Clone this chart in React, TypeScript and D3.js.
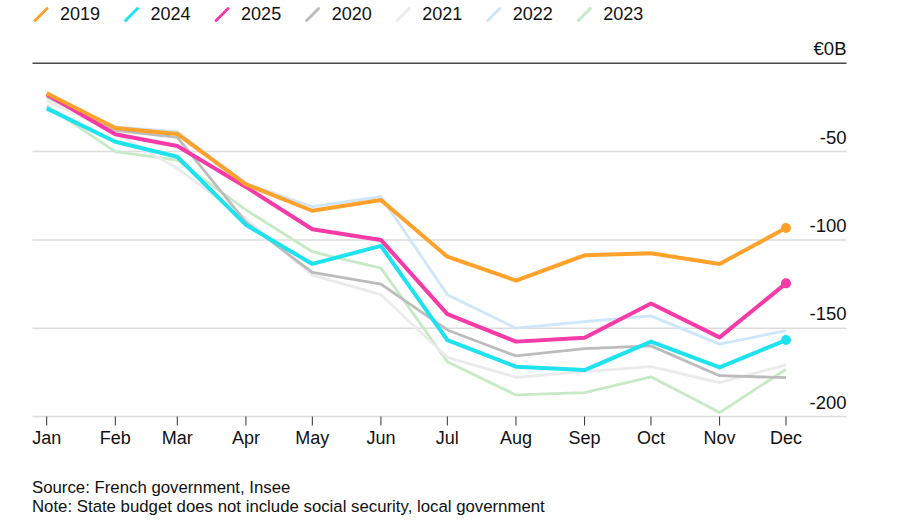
import { useEffect, useRef } from "react";
import * as d3 from "d3";

const months = ["Jan", "Feb", "Mar", "Apr", "May", "Jun", "Jul", "Aug", "Sep", "Oct", "Nov", "Dec"];

const v2019 = [-17, -36.6, -40, -68.5, -83.5, -77.4, -109.5, -123, -108.7, -107.6, -113.6, -93.3];
const v2024 = [-25.5, -44.4, -52.9, -91.5, -113.6, -103.4, -156.7, -171.8, -173.7, -157.6, -172.2, -156.7];
const v2025 = [-17.5, -40.2, -46.8, -70, -94, -100, -142, -157.6, -155.4, -136, -155.2, -124.6];
const v2020 = [-19, -38, -42, -90, -118.4, -125, -151, -165.7, -161.6, -160, -176.9, -178];
const v2021 = [-21, -39.5, -59.5, -88, -120, -131, -166.5, -177.8, -174.6, -171.8, -180.8, -170.8];
const v2022 = [-18, -36, -38.7, -68, -81.2, -75.5, -131, -150, -146.3, -143, -159, -151.4];
const v2023 = [-24, -50, -54.8, -83, -106.7, -116, -169, -187.8, -186.5, -177.5, -197.8, -173.3];

const yTicks = [0, -50, -100, -150, -200];
const yTickLabels = ["€0B", "-50", "-100", "-150", "-200"];

// legend order
const legendYears = ["2019", "2024", "2025", "2020", "2021", "2022", "2023"];

const seriesStyle: Record<string, { color: string; width: number; dot: boolean; values: number[] }> = {
  "2019": { color: "#ffa12b", width: 4, dot: true, values: v2019 },
  "2024": { color: "#1fe2ef", width: 4, dot: true, values: v2024 },
  "2025": { color: "#f63aa8", width: 4, dot: true, values: v2025 },
  "2020": { color: "#bcbcbc", width: 2.8, dot: false, values: v2020 },
  "2021": { color: "#ebebeb", width: 2.8, dot: false, values: v2021 },
  "2022": { color: "#cde6fa", width: 2.8, dot: false, values: v2022 },
  "2023": { color: "#c6e9c6", width: 2.8, dot: false, values: v2023 },
};

// drawn back to front
const drawOrder = ["2023", "2022", "2021", "2020", "2025", "2024", "2019"];

const FONT = "'Liberation Sans', Arial, Helvetica, sans-serif";
const INK = "#111";

export default function App() {
  const ref = useRef<SVGSVGElement>(null);
  useEffect(() => {
    if (!ref.current) return;
    const svg = d3.select(ref.current);
    svg.selectAll("*").remove();
    const w = 900;
    const h = 521;
    svg.attr("viewBox", `0 0 ${w} ${h}`);

    const dates = months.map((_, i) => new Date(2019, i, 1));
    const x = d3.scaleTime()
      .domain([dates[0], dates[11]])
      .range([46.7, 786]);
    const y = d3.scaleLinear().domain([0, -200]).range([63.3, 416.5]);
    const gridL = 32.5;
    const gridR = 846.5;

    // gridlines
    yTicks.forEach((t, i) => {
      svg.append("line")
        .attr("x1", gridL).attr("x2", gridR)
        .attr("y1", y(t)).attr("y2", y(t))
        .attr("stroke", t === 0 ? "#4a4a4a" : "#dcdcdc")
        .attr("stroke-width", t === 0 ? 1.4 : 1.5);
      svg.append("text")
        .attr("x", gridR).attr("y", y(t) - 8)
        .attr("text-anchor", "end")
        .attr("font-family", FONT).attr("font-size", 18.5)
        .attr("fill", INK)
        .text(yTickLabels[i]);
    });

    // x axis ticks + labels
    const xg = svg.append("g");
    dates.forEach((d, i) => {
      xg.append("line")
        .attr("x1", x(d)).attr("x2", x(d))
        .attr("y1", y(-200)).attr("y2", y(-200) + 9)
        .attr("stroke", "#333").attr("stroke-width", 1);
      xg.append("text")
        .attr("x", x(d)).attr("y", 443.5)
        .attr("text-anchor", "middle")
        .attr("font-family", FONT).attr("font-size", 18)
        .attr("fill", INK)
        .text(months[i]);
    });

    const line = d3.line<number>()
      .x((_, i) => x(dates[i]))
      .y((d) => y(d));

    drawOrder.forEach((yr) => {
      const s = seriesStyle[yr];
      svg.append("path")
        .datum(s.values)
        .attr("fill", "none")
        .attr("stroke", s.color)
        .attr("stroke-width", s.width)
        .attr("stroke-linejoin", "round")
        .attr("d", line);
    });
    drawOrder.forEach((yr) => {
      const s = seriesStyle[yr];
      if (!s.dot) return;
      svg.append("circle")
        .attr("cx", x(dates[11]))
        .attr("cy", y(s.values[11]))
        .attr("r", 5)
        .attr("fill", s.color);
    });

    // legend
    const lg = svg.append("g");
    let lx = 60;
    legendYears.forEach((yr) => {
      const s = seriesStyle[yr];
      lg.append("line")
        .attr("x1", lx - 25).attr("y1", 20.5)
        .attr("x2", lx - 13).attr("y2", 8.5)
        .attr("stroke", s.color)
        .attr("stroke-width", 3)
        .attr("stroke-linecap", "round");
      const t = lg.append("text")
        .attr("x", lx).attr("y", 20)
        .attr("font-family", FONT).attr("font-size", 18)
        .attr("fill", INK)
        .text(yr);
      const tw = (t.node() as SVGTextElement).getComputedTextLength();
      lx += tw + 50.5;
    });

    // footer
    svg.append("text")
      .attr("x", 32).attr("y", 493)
      .attr("font-family", FONT).attr("font-size", 16.8)
      .attr("fill", INK)
      .text("Source: French government, Insee");
    svg.append("text")
      .attr("x", 32).attr("y", 511.5)
      .attr("font-family", FONT).attr("font-size", 16.8)
      .attr("fill", INK)
      .text("Note: State budget does not include social security, local government");
  }, []);
  return (
    <svg
      ref={ref}
      width={900}
      height={521}
      style={{ position: "absolute", left: 0, top: 0, background: "#fff" }}
    />
  );
}
